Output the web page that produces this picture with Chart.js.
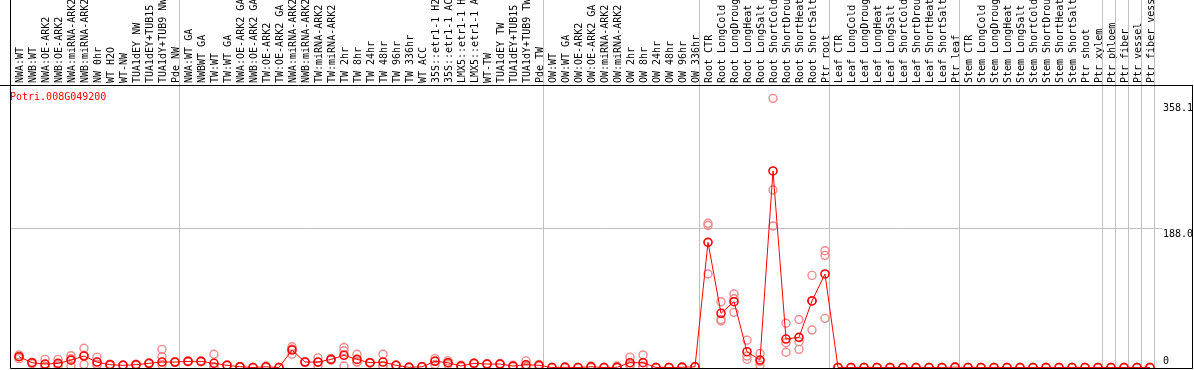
<!DOCTYPE html>
<html>
<head>
<meta charset="utf-8">
<script src="https://cdn.jsdelivr.net/npm/chart.js@4.4.0/dist/chart.umd.min.js"></script>
<style>
  body { margin: 0; background: #fff; }
  #wrap { width: 1194px; height: 370px; }
</style>
</head>
<body>
<div id="wrap"><canvas id="exprChart"></canvas></div>
<script>
const geneName = 'Potri.008G049200';

const categories = [
  'NWA:WT', 'NWB:WT', 'NWA:OE-ARK2', 'NWB:OE-ARK2', 'NWA:miRNA-ARK2', 'NWB:miRNA-ARK2', 'NW 0hr', 'WT H2O', 'WT-NW',
  'TUA1dEY NW', 'TUA1dEY+TUB15 NW', 'TUA1dY+TUB9 NW', 'Pde NW',
  'NWA:WT GA', 'NWBWT GA', 'TW:WT', 'TW:WT GA', 'NWA:OE-ARK2 GA', 'NWB:OE-ARK2 GA', 'TW:OE-ARK2', 'TW:OE-ARK2 GA',
  'NWA:miRNA-ARK2', 'NWB:miRNA-ARK2', 'TW:miRNA-ARK2', 'TW:miRNA-ARK2', 'TW 2hr', 'TW 8hr', 'TW 24hr', 'TW 48hr',
  'TW 96hr', 'TW 336hr', 'WT ACC', '35S::etr1-1 H2O', '35S::etr1-1 ACC', 'LMX5::etr1-1 H2O', 'LMX5::etr1-1 ACC',
  'WT-TW', 'TUA1dEY TW', 'TUA1dEY+TUB15 TW', 'TUA1dY+TUB9 TW', 'Pde TW',
  'OW:WT', 'OW:WT GA', 'OW:OE-ARK2', 'OW:OE-ARK2 GA', 'OW:miRNA-ARK2', 'OW:miRNA-ARK2', 'OW 2hr', 'OW 8hr',
  'OW 24hr', 'OW 48hr', 'OW 96hr', 'OW 336hr',
  'Root CTR', 'Root LongCold', 'Root LongDrought', 'Root LongHeat', 'Root LongSalt', 'Root ShortCold',
  'Root ShortDrought', 'Root ShortHeat', 'Root ShortSalt', 'Ptr root',
  'Leaf CTR', 'Leaf LongCold', 'Leaf LongDrought', 'Leaf LongHeat', 'Leaf LongSalt', 'Leaf ShortCold',
  'Leaf ShortDrought', 'Leaf ShortHeat', 'Leaf ShortSalt', 'Ptr leaf',
  'Stem CTR', 'Stem LongCold', 'Stem LongDrought', 'Stem LongHeat', 'Stem LongSalt', 'Stem ShortCold',
  'Stem ShortDrought', 'Stem ShortHeat', 'Stem ShortSalt', 'Ptr shoot', 'Ptr xylem',
  'Ptr phloem', 'Ptr fiber', 'Ptr vessel', 'Ptr fiber vessel'
];

// index where each sample group starts (separator drawn before it)
const groupStarts = [13, 41, 53, 63, 73, 84, 85, 86, 87, 88];

const meanValues = [
  14.6, 6.5, 4.7, 5.7, 10, 15.5, 7.4, 3.8, 3, 3.8, 5.7, 7.4, 7.4,
  8.3, 8.3, 5.7, 3, 1.1, 0, 1, 0, 23.7, 7.4, 7.4, 11, 16.5, 11, 6.5, 7.4, 3, 0.3, 1, 8.4, 6.5, 2, 5.7, 4.7, 4.7, 2, 3.8, 3,
  0, 0.3, 0, 1, 0, 0.3, 6.5, 6.5, 0, 0, 0.3, 1,
  169.3, 73.3, 89, 21.4, 10.1, 265.8, 38.5, 40.8, 90, 126.5,
  0, 0, 0, 0, 0, 0, 0, 0, 0, 0.5,
  0, 0, 0, 0, 0, 0, 0, 0, 0, 0, 0,
  0, 0, 0, 0
];

const rep1 = [
  17, 7, 11, 11, 16, 26, 14, 4, 3, 4, 5, 24.6, 7,
  8, 8, 18, 3, 1, 0, 2, 0, 28, 7, 13, 12, 27, 18, 7, 18, 3, 1, 1, 12, 9, 3, 6, 5, 5, 2, 9, 4,
  0, 1, 0, 2, 0, 2, 14, 17, 0, 0, 1, 1,
  195, 89, 99.4, 37, 19, 364, 59.8, 65, 124.6, 158,
  0, 0, 0, 0, 0, 0, 0, 0, 0, 1,
  0, 0, 0, 0, 0, 0, 0, 0, 0, 0, 0,
  0, 0, 0, 0
];
const rep2 = [
  12, 5, 1, 2, 12, 4, 4, 3, 3, 3, 6, 14.6, 8,
  9, 8, 1, 3, 1, 0, 1, 0, 25, 8, 2, 11, 22.7, 7.5, 6, 2, 3, 0, 1, 9, 6.5, 2, 5, 4, 4, 3, 2, 3,
  0, 0, 0, 1, 0, 0, 4, 2, 0, 0, 0, 1,
  192, 65, 93, 15.5, 8, 240, 33.5, 35, 90.4, 151.7,
  0, 0, 0, 0, 0, 0, 0, 0, 0, 0.5,
  0, 0, 0, 0, 0, 0, 0, 0, 0, 0, 0,
  0, 0, 0, 0
];
const rep3 = [
  15, 7, 2, 4, 2, 16.5, 4, 4.5, 3, 4.5, 6, 3.8, 7,
  8, 9, 0, 3, 1, 0, 0, 0, 18, 7, 7, 10, 2, 7.5, 6.5, 2, 3, 0, 1, 4, 4, 1, 6, 5, 5, 1, 0.5, 2,
  0, 0, 0, 0, 0, 0, 2, 1, 0, 0, 0, 1,
  126.5, 63, 74.6, 11, 3, 191.4, 20.6, 24.6, 50.7, 66.5,
  0, 0, 0, 0, 0, 0, 0, 0, 0, 0,
  0, 0, 0, 0, 0, 0, 0, 0, 0, 0, 0,
  0, 0, 0, 0
];

const yTicks = [0, 188.0, 358.1];

const monoFont = { family: 'DejaVu Sans Mono', size: 10 };

const meanPoints = meanValues.map((v, i) => ({ x: i, y: v }));
const repPoints = [rep1, rep2, rep3].flatMap(rep => rep.map((v, i) => ({ x: i, y: v })));

const framePlugin = {
  id: 'frame',
  beforeDatasetsDraw(chart) {
    const { ctx, chartArea, scales: { x } } = chart;
    ctx.save();
    ctx.strokeStyle = '#c0c0c0';
    ctx.lineWidth = 1;
    groupStarts.forEach(g => {
      const px = Math.round(x.getPixelForValue(g - 0.5)) - 1.5;
      ctx.beginPath();
      ctx.moveTo(px, 0);
      ctx.lineTo(px, chartArea.bottom);
      ctx.stroke();
    });
    ctx.restore();
  },
  afterDraw(chart) {
    const { ctx, chartArea, scales: { y } } = chart;
    ctx.save();
    // y labels on the right, inside the frame
    ctx.font = '10px "DejaVu Sans Mono"';
    ctx.textAlign = 'left';
    yTicks.forEach(v => {
      const py = y.getPixelForValue(v);
      const txt = v === 0 ? '0' : v.toFixed(1);
      ctx.fillStyle = '#fff';
      if (v !== 0) ctx.fillRect(1162, py - 1, 40, 2);
      ctx.fillStyle = '#000';
      if (v === 0) {
        ctx.textBaseline = 'bottom';
        ctx.fillText(txt, 1163, py - 1);
      } else {
        ctx.textBaseline = 'top';
        ctx.fillText(txt, 1163, py + 1);
      }
    });
    // gene name
    ctx.fillStyle = '#ff0000';
    ctx.textBaseline = 'middle';
    ctx.fillText(geneName, chartArea.left, chartArea.top + 11);
    // frame
    ctx.strokeStyle = '#000';
    ctx.lineWidth = 1;
    ctx.beginPath();
    ctx.moveTo(chartArea.left + 0.5, 0);
    ctx.lineTo(chartArea.left + 0.5, chartArea.bottom - 0.5);
    ctx.lineTo(chartArea.right - 0.5, chartArea.bottom - 0.5);
    ctx.lineTo(chartArea.right - 0.5, chartArea.top - 0.5);
    ctx.moveTo(0, chartArea.top - 0.5);
    ctx.lineTo(chartArea.right, chartArea.top - 0.5);
    ctx.stroke();
    ctx.restore();
  }
};

const ctx = document.getElementById('exprChart').getContext('2d');
new Chart(ctx, {
  type: 'line',
  data: {
    datasets: [
      {
        label: geneName,
        data: meanPoints,
        borderColor: '#ff0000',
        borderWidth: 1,
        pointRadius: 4,
        pointBorderColor: '#ff0000',
        pointBackgroundColor: 'rgba(0,0,0,0)',
        pointBorderWidth: 1.6,
        tension: 0,
        order: 0
      },
      {
        type: 'scatter',
        label: 'replicates',
        data: repPoints,
        showLine: false,
        pointRadius: 4,
        pointBorderColor: '#f08a8a',
        pointBackgroundColor: 'rgba(0,0,0,0)',
        pointBorderWidth: 1.4,
        order: 1
      }
    ]
  },
  options: {
    responsive: true,
    maintainAspectRatio: false,
    animation: false,
    layout: { autoPadding: false, padding: { left: 10, right: 1, top: 0, bottom: 1 } },
    scales: {
      x: {
        type: 'linear',
        position: 'top',
        min: -0.692,
        max: 90.308,
        afterBuildTicks: axis => { axis.ticks = categories.map((c, i) => ({ value: i })); },
        afterFit: axis => { axis.height = 86; },
        grid: { display: false, drawTicks: false },
        border: { display: false },
        ticks: {
          autoSkip: false,
          minRotation: 90,
          maxRotation: 90,
          padding: 3,
          labelOffset: 13,
          color: '#000',
          font: monoFont,
          callback: v => categories[v]
        }
      },
      y: {
        min: -2,
        max: 380.7,
        afterBuildTicks: axis => { axis.ticks = yTicks.map(v => ({ value: v })); },
        border: { display: false },
        grid: {
          drawTicks: false,
          color: c => (c.tick && c.tick.value === 188 ? '#c0c0c0' : 'rgba(0,0,0,0)')
        },
        ticks: { display: false }
      }
    },
    plugins: {
      legend: { display: false },
      tooltip: { enabled: false }
    }
  },
  plugins: [framePlugin]
});
</script>
</body>
</html>
